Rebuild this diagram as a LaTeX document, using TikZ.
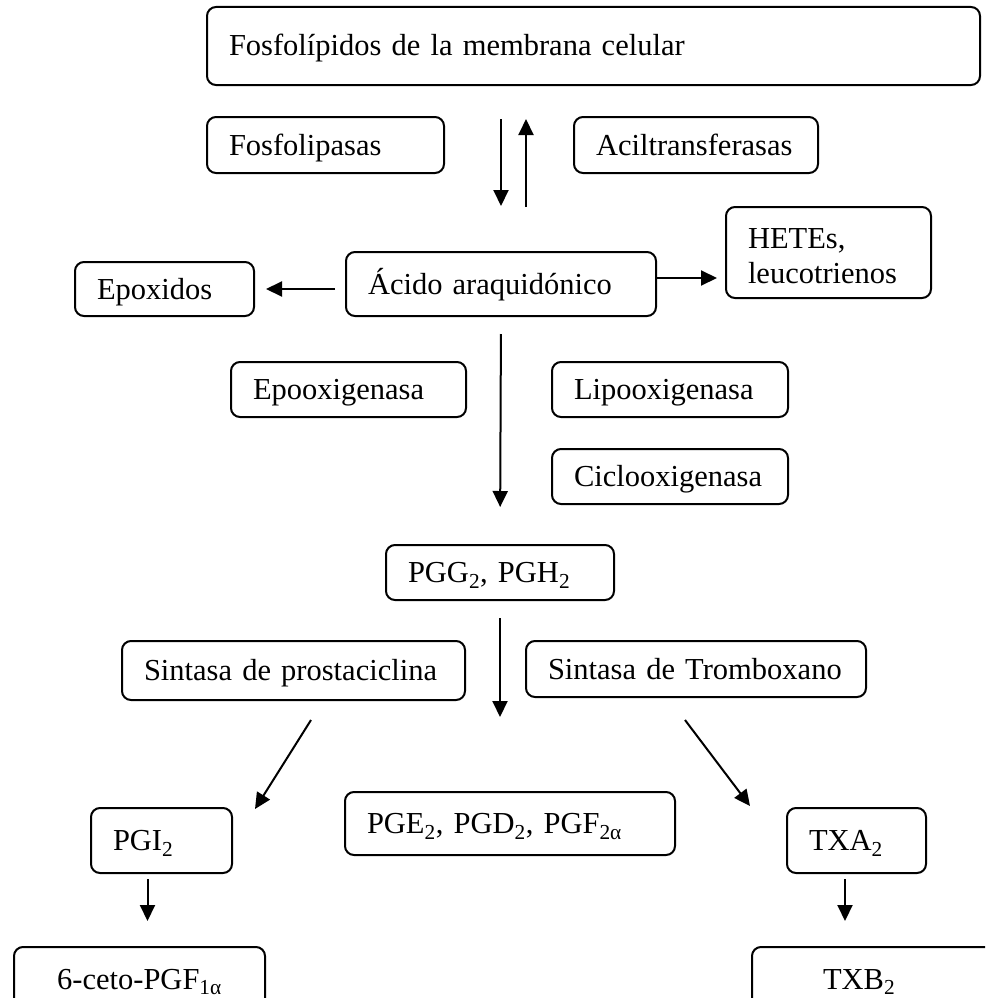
\documentclass[tikz,border=0pt]{standalone}
\usepackage{fontspec}
\setmainfont{Liberation Serif}
\usetikzlibrary{arrows.meta}
\hyphenpenalty=10000 \exhyphenpenalty=10000

\begin{document}
\begin{tikzpicture}[x=1pt,y=-1pt,
  box/.style 2 args={draw,rounded corners=9pt,line width=2pt,inner xsep=22pt,inner ysep=0pt,text width=#1,minimum height=#2,align=left,font=\fontsize{30.5}{35}\selectfont,text height=20pt,text depth=0pt},
  arr/.style={-{Triangle[length=16pt,width=15pt]},line width=2pt}]
\useasboundingbox(0,0)rectangle(985,998);\clip(0,0)rectangle(985,998);
\node[box={729pt}{78pt}](memb)at(593.5,46){Fosfolípidos de la membrana celular};
\node[box={193pt}{56pt}](fosf)at(325.5,145){Fosfolipasas};\node[box={200pt}{56pt}](acil)at(696,145){Aciltransferasas};
\node[box={135pt}{54pt}](epox)at(164.5,289){Epoxidos};\node[box={266pt}{64pt}](acido)at(501,284){Ácido araquidónico};
\node[box={161pt}{91pt},text depth=29pt](hetes)at(828.5,252.5){HETEs,\\leucotrienos};
\node[box={191pt}{55pt}](epoo)at(348.5,389.5){Epooxigenasa};\node[box={192pt}{55pt}](lipo)at(670,389.5){Lipooxigenasa};
\node[box={192pt}{55pt}](ciclo)at(670,476.5){Ciclooxigenasa};
\node[box={184pt}{55pt}](pgg)at(500,572.5){PGG\textsubscript{2}, PGH\textsubscript{2}};
\node[box={299pt}{59pt}](sprost)at(293.5,670.5){Sintasa de prostaciclina};\node[box={296pt}{56pt}](stromb)at(696,669){Sintasa de Tromboxano};
\node[box={97pt}{65pt}](pgi)at(161.5,840.5){PGI\textsubscript{2}};
\node[box={286pt}{63pt}](pge)at(510,823.5){PGE\textsubscript{2}, PGD\textsubscript{2}, PGF\textsubscript{2α}};
\node[box={95pt}{65pt}](txa)at(856.5,840.5){TXA\textsubscript{2}};
\node[box={207pt}{64pt},align=center](ceto)at(139.5,979){6-ceto-PGF\textsubscript{1α}};
\node[box={214pt}{64pt}](txb)at(881,979){\hspace*{49pt}TXB\textsubscript{2}};
\coordinate(up)at([xshift=25pt]acido.north);\coordinate(hr)at([yshift=6pt]acido.east);
\coordinate(pl)at([xshift=-14pt]pgi.south);\coordinate(tl)at([xshift=-11.5pt]txa.south);
\draw[arr,shorten <=33pt,shorten >=45pt](memb.south -| acido.north)--(acido.north);
\draw[arr,shorten <=44pt,shorten >=33pt](up)--(up |- memb.south);
\draw[arr,shorten <=10pt,shorten >=11pt](epox.east -| acido.west)--(epox.east);
\draw[arr,shorten >=8pt](hr)--(hr -| hetes.west);
\draw[arr,shorten <=17pt,shorten >=37pt](acido.south)--(pgg.north);
\draw[arr,shorten <=17pt,shorten >=74pt](pgg.south)--(pgg.south |- pge.north);
\draw[arr]([xshift=17.5pt,yshift=-19pt]sprost.south)--([xshift=22pt,yshift=-2pt]pgi.north east);
\draw[arr]([xshift=-11pt,yshift=-22pt]stromb.south)--([xshift=-36pt,yshift=1pt]txa.north west);
\draw[arr,shorten <=5pt,shorten >=25pt](pl)--(pl |- ceto.north);\draw[arr,shorten <=5pt,shorten >=25pt](tl)--(tl |- txb.north);
\end{tikzpicture}
\end{document}
